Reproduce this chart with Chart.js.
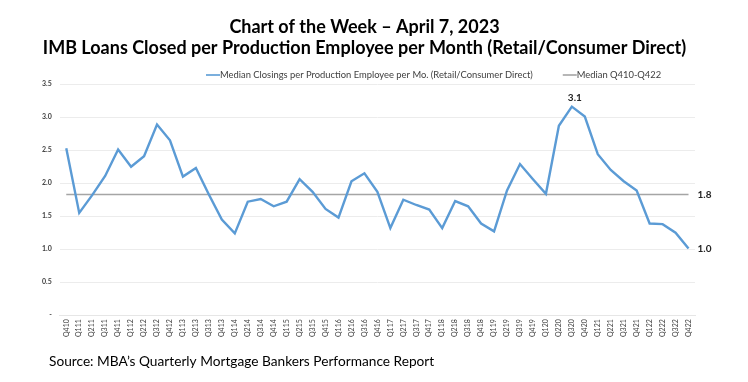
<!DOCTYPE html>
<html>
<head>
<meta charset="utf-8">
<script src="https://cdn.jsdelivr.net/npm/chart.js@4.4.0/dist/chart.umd.min.js"></script>
<style>
  html, body { margin: 0; padding: 0; background: #fff; }
  #wrap { width: 748px; height: 382px; position: relative; }
</style>
</head>
<body>
<div id="wrap"><canvas id="chart"></canvas></div>
<script>
// quarters, Q4 2010 through Q4 2022
const quarters = [
  'Q410',
  'Q111', 'Q211', 'Q311', 'Q411',
  'Q112', 'Q212', 'Q312', 'Q412',
  'Q113', 'Q213', 'Q313', 'Q413',
  'Q114', 'Q214', 'Q314', 'Q414',
  'Q115', 'Q215', 'Q315', 'Q415',
  'Q116', 'Q216', 'Q316', 'Q416',
  'Q117', 'Q217', 'Q317', 'Q417',
  'Q118', 'Q218', 'Q318', 'Q418',
  'Q119', 'Q219', 'Q319', 'Q419',
  'Q120', 'Q220', 'Q320', 'Q420',
  'Q121', 'Q221', 'Q321', 'Q421',
  'Q122', 'Q222', 'Q322', 'Q422'
];

// median closings per production employee per month
const closings = [
  2.53,
  1.55, 1.82, 2.11, 2.51,
  2.25, 2.41, 2.89, 2.65,
  2.10, 2.23, 1.83, 1.45,
  1.24, 1.72, 1.76, 1.65,
  1.72, 2.06, 1.87, 1.61,
  1.48, 2.03, 2.15, 1.87,
  1.32, 1.75, 1.67, 1.60,
  1.32, 1.73, 1.65, 1.39,
  1.27, 1.89, 2.29, 2.06,
  1.84, 2.87, 3.16, 3.01,
  2.44, 2.20, 2.03, 1.89,
  1.39, 1.38, 1.25, 1.01
];

const medianValue = 1.83;
const medianLine = quarters.map(() => medianValue);

const yTicks = [0, 0.5, 1.0, 1.5, 2.0, 2.5, 3.0, 3.5];

const sourceNote = 'Source: MBA\u2019s Quarterly Mortgage Bankers Performance Report';

// value labels: [dataset, index, text, where]
const callouts = [
  [0, 39, '3.1', 'above'],
  [1, 48, '1.8', 'right'],
  [0, 48, '1.0', 'right']
];

// callouts, a hand-placed legend row and the source line
const extrasPlugin = {
  id: 'extras',
  afterDatasetsDraw(chart) {
    const ctx = chart.ctx;
    ctx.save();
    ctx.font = 'bold 10px Lato';
    ctx.fillStyle = '#222';
    callouts.forEach(([ds, i, txt, where]) => {
      const pt = chart.getDatasetMeta(ds).data[i];
      if (where === 'above') {
        ctx.textAlign = 'center';
        ctx.textBaseline = 'bottom';
        ctx.fillText(txt, pt.x + 3, pt.y - 4);
      } else {
        ctx.textAlign = 'left';
        ctx.textBaseline = 'middle';
        ctx.fillText(txt, pt.x + 9, pt.y);
      }
    });
    ctx.restore();
  },
  afterDraw(chart) {
    const ctx = chart.ctx;
    ctx.save();
    // legend
    ctx.font = '9.4px Lato';
    ctx.textBaseline = 'middle';
    ctx.textAlign = 'left';
    let x = 206;
    const y = 75;
    chart.data.datasets.forEach((ds) => {
      ctx.strokeStyle = ds.borderColor;
      ctx.lineWidth = 1.6;
      ctx.beginPath();
      ctx.moveTo(x, y);
      ctx.lineTo(x + 14, y);
      ctx.stroke();
      ctx.fillStyle = '#404040';
      ctx.fillText(ds.label, x + 14, y);
      x += 14 + ctx.measureText(ds.label).width + 30;
    });
    // source
    ctx.font = '13.7px Lato';
    ctx.fillStyle = '#000';
    ctx.fillText(sourceNote, 49, 362);
    ctx.restore();
  }
};

new Chart(document.getElementById('chart'), {
  type: 'line',
  data: {
    labels: quarters,
    datasets: [
      {
        label: 'Median Closings per Production Employee per Mo. (Retail/Consumer Direct)',
        data: closings,
        borderColor: '#5b9bd5',
        backgroundColor: '#5b9bd5',
        borderWidth: 2.4,
        pointRadius: 0,
        tension: 0
      },
      {
        label: 'Median Q410-Q422',
        data: medianLine,
        borderColor: '#a5a5a5',
        backgroundColor: '#a5a5a5',
        borderWidth: 1.6,
        pointRadius: 0
      }
    ]
  },
  options: {
    responsive: true,
    maintainAspectRatio: false,
    animation: false,
    layout: { padding: { left: 34, right: 53, top: 0, bottom: 41 } },
    plugins: {
      title: {
        display: true,
        text: ['Chart of the Week \u2013 April 7, 2023',
               'IMB Loans Closed per Production Employee per Month (Retail/Consumer Direct)'],
        font: { family: 'Lato', size: 18, weight: 'bold' },
        color: '#000',
        lineHeight: 1.2,
        padding: { top: 16, bottom: 25 }
      },
      legend: { display: false },
      tooltip: { enabled: false }
    },
    scales: {
      x: {
        offset: true,
        grid: { display: false, drawTicks: false, tickLength: 0 },
        border: { color: '#e6e6e6' },
        ticks: {
          autoSkip: false,
          minRotation: 90,
          maxRotation: 90,
          padding: 4,
          font: { family: 'Lato', size: 7 },
          color: '#404040'
        }
      },
      y: {
        min: 0,
        max: 3.5,
        afterBuildTicks: (axis) => { axis.ticks = yTicks.map(v => ({ value: v })); },
        grid: { color: '#ececec', drawTicks: false, tickLength: 0 },
        border: { display: false },
        ticks: {
          font: { family: 'Lato', size: 7, weight: 'bold' },
          color: '#404040',
          padding: 8,
          callback: (v) => v === 0 ? '-' : v.toFixed(1)
        }
      }
    }
  },
  plugins: [extrasPlugin]
});
</script>
</body>
</html>
